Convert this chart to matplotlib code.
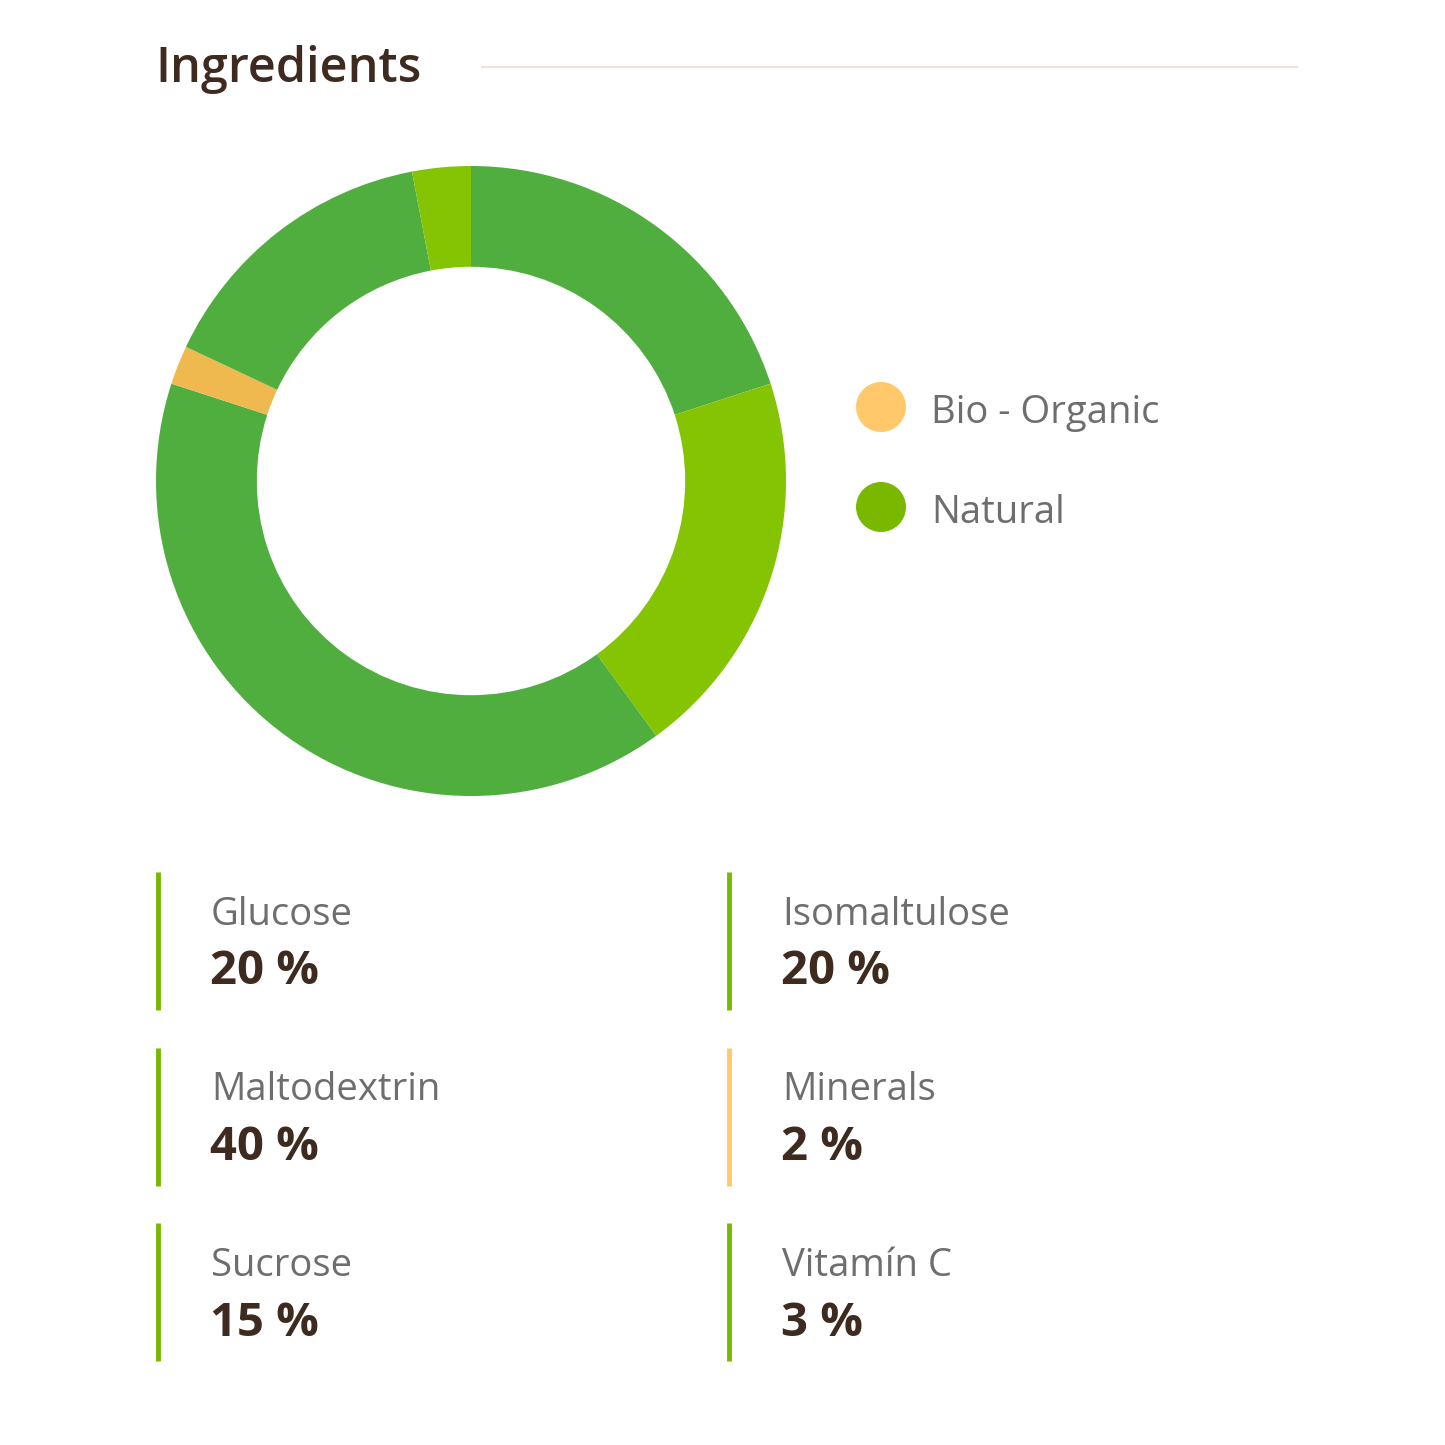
import matplotlib.pyplot as plt
import matplotlib.patches as mpatches

# ingredient shares, in the order they appear clockwise from 12 o'clock
ingredients = ["Glucose", "Isomaltulose", "Maltodextrin", "Minerals", "Sucrose", "Vitamín C"]
shares = [20, 20, 40, 2, 15, 3]
kinds = ["natural", "natural", "natural", "bio", "natural", "natural"]
wedge_colors = ["#50AE3F", "#84C403", "#50AE3F", "#F0B94F", "#50AE3F", "#84C403"]

legend_labels = ["Bio - Organic", "Natural"]
legend_colors = ["#FFC96B", "#7AB800"]
kind_colors = {"bio": "#FFC96B", "natural": "#7AB800"}

TITLE_C = "#3F2A20"
LABEL_C = "#6E6E6E"
FONT = ["Open Sans", "DejaVu Sans"]

W = 1445
fig = plt.figure(figsize=(14.45, 14.45), dpi=100)
fig.patch.set_facecolor("white")

# overlay axes in pixel coordinates for all the text
ov = fig.add_axes([0, 0, 1, 1])
ov.set_xlim(0, W)
ov.set_ylim(W, 0)
ov.axis("off")

ov.text(155, 70, "Ingredients", fontsize=35, fontweight="semibold", color=TITLE_C,
        va="center", ha="left", family=FONT)
ov.plot([482, 1297], [67, 67], color="#EDE5DD", lw=1.5)

# donut
cx, cy, r = 471, 481, 315
ax = fig.add_axes([(cx - r) / W, 1 - (cy + r) / W, 2 * r / W, 2 * r / W])
ax.pie(shares, colors=wedge_colors, startangle=90, counterclock=False,
       radius=1, wedgeprops=dict(width=0.32, edgecolor="none", linewidth=0))
ax.set_xlim(-1, 1)
ax.set_ylim(-1, 1)
ax.set_aspect("equal")
ax.axis("off")

# legend
for i, (lab, col) in enumerate(zip(legend_labels, legend_colors)):
    y = 407 + i * 100
    ov.add_patch(mpatches.Circle((881, y), 25, color=col, lw=0))
    ov.text(931, y + 6, lab, fontsize=27.5, color=LABEL_C, va="center", ha="left", family=FONT)

# ingredient cards
for i, (name, val, kind) in enumerate(zip(ingredients, shares, kinds)):
    row, col = divmod(i, 2)
    x0 = 158 + col * 571
    y0 = 872 + row * 175.5
    ov.plot([x0, x0], [y0, y0 + 138], color=kind_colors[kind], lw=3.5, solid_capstyle="butt")
    ov.text(x0 + 53, y0 + 43, name, fontsize=27.5, color=LABEL_C, va="center", ha="left", family=FONT)
    ov.text(x0 + 52, y0 + 100, f"{val} %", fontsize=34, fontweight="bold", color=TITLE_C,
            va="center", ha="left", family=FONT)

fig.savefig("out.png", dpi=100, facecolor="white")
